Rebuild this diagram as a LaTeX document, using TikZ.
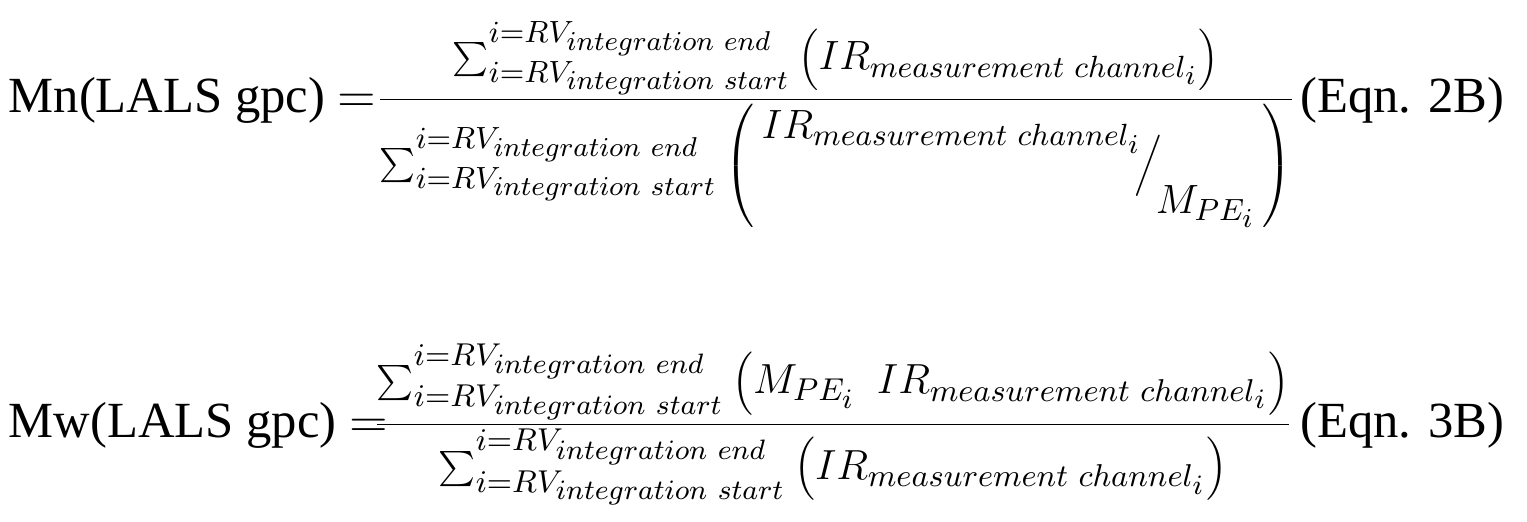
\documentclass[tikz,border=0pt]{standalone}
\usepackage{fontspec}
\setmainfont{Liberation Serif}
\DeclareMathSizes{12}{12}{9.5}{8}
\begin{document}
\begin{tikzpicture}[x=0.01cm,y=-0.01cm,
  eq/.style={inner sep=0pt,font=\fontsize{12}{14}\selectfont},
  lab/.style={inner sep=0pt,font=\fontsize{14.4}{17}\selectfont}]
\useasboundingbox (0,0) rectangle (1527,521);
\newcommand{\mysum}{\textstyle\sum_{i=RV_{integration\ start}}^{i=RV_{integration\ end}}}
\newcommand{\myIR}{IR_{measurement\ channel_i}}
\node[lab,anchor=base west] (m1) at (8,112) {Mn(LALS gpc) $=$};
\node[eq,anchor=base west] (e1) at (375,110) {\resizebox{9.2cm}{!}{$\displaystyle\frac{\mysum\left(\myIR\right)}{\mysum\left(\,\raisebox{11pt}{$\myIR$}\!\Big/\!\raisebox{-11pt}{$M_{PE_i}$}\,\right)}$}};
\node[lab,anchor=base east] (l1) at (1505,112) {(Eqn. 2B)};
\node[lab,anchor=base west] (m2) at (8,437) {Mw(LALS gpc) $=$};
\node[eq,anchor=base west] (e2) at (372,435) {\resizebox{9.2cm}{!}{$\displaystyle\frac{\mysum\left(M_{PE_i}\ \ \myIR\right)}{\mysum\left(\myIR\right)}$}};
\node[lab,anchor=base east] (l2) at (1505,437) {(Eqn. 3B)};
\end{tikzpicture}
\end{document}
